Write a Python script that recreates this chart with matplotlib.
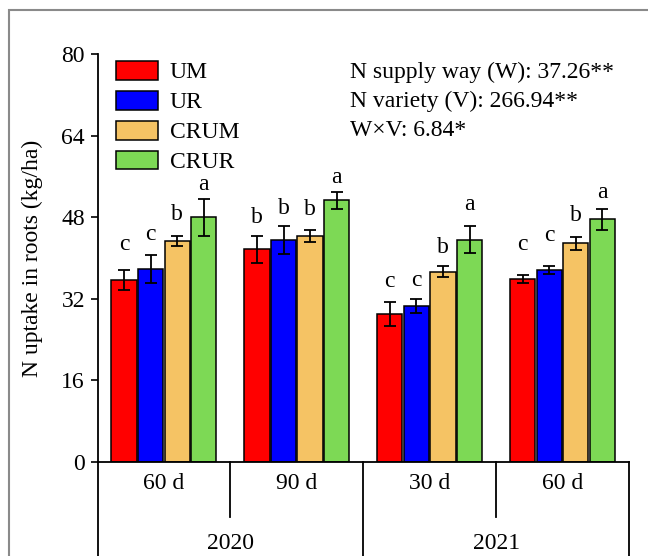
import numpy as np
import matplotlib
matplotlib.use('Agg')
import matplotlib.pyplot as plt
from matplotlib.patches import Rectangle

plt.rcParams['font.family'] = ['Liberation Serif', 'DejaVu Serif']
plt.rcParams['font.size'] = 17

# data
treatments = ['UM', 'UR', 'CRUM', 'CRUR']
colors = ['#FF0000', '#0000FF', '#F5C364', '#7DD955']
stages = ['60 d', '90 d', '30 d', '60 d']
years = ['2020', '2021']

means = {
    'UM':   [35.7, 41.7, 29.0, 35.8],
    'UR':   [37.8, 43.5, 30.6, 37.6],
    'CRUM': [43.3, 44.3, 37.3, 42.9],
    'CRUR': [48.0, 51.3, 43.6, 47.6],
}
errs = {
    'UM':   [2.0, 2.7, 2.3, 0.8],
    'UR':   [2.7, 2.8, 1.3, 0.8],
    'CRUM': [1.0, 1.2, 1.05, 1.3],
    'CRUR': [3.6, 1.7, 2.7, 2.1],
}
letters = {
    'UM':   ['c', 'b', 'c', 'c'],
    'UR':   ['c', 'b', 'c', 'c'],
    'CRUM': ['b', 'b', 'b', 'b'],
    'CRUR': ['a', 'a', 'a', 'a'],
}
letter_y = {
    'UM':   [42.6, 48.0, 35.4, 42.7],
    'UR':   [44.7, 49.8, 35.6, 44.4],
    'CRUM': [48.6, 49.6, 42.0, 48.3],
    'CRUR': [54.5, 55.7, 50.4, 52.8],
}
stats = ['N supply way (W): 37.26**', 'N variety (V): 266.94**', 'W\u00d7V: 6.84*']

fig = plt.figure(figsize=(6.48, 5.56), dpi=100)
ax = fig.add_axes([0.1505, 0.1691, 0.8202, 0.7338])

x = np.arange(len(stages))
width = 0.19
offsets = [-0.3, -0.1, 0.1, 0.3]

for i, t in enumerate(treatments):
    ax.bar(x + offsets[i], means[t], width, color=colors[i], edgecolor='black',
           linewidth=1.1, label=t, zorder=2)
    ax.errorbar(x + offsets[i], means[t], yerr=errs[t], fmt='none', ecolor='black',
                elinewidth=1.3, capsize=4, capthick=1.3, zorder=3)
    for j in range(len(stages)):
        ax.text(x[j] + offsets[i], letter_y[t][j], letters[t][j], ha='center',
                va='center', fontsize=17)

ax.set_xlim(-0.5, 3.5)
ax.set_ylim(0, 80)
ax.set_yticks([0, 16, 32, 48, 64, 80])
ax.set_xticks([])
ax.tick_params(axis='y', direction='out', length=5, width=1.2, pad=4, labelsize=17)
for s in ['top', 'right']:
    ax.spines[s].set_visible(False)
ax.spines['left'].set_linewidth(1.3)
ax.spines['bottom'].set_linewidth(1.3)

ax.set_ylabel('N uptake in roots (kg/ha)', fontsize=17)
ax.yaxis.set_label_coords(-0.1025, 0.5)

# category table below the axis
trans = ax.get_xaxis_transform()
for xv in [-0.5, 1.5, 3.5]:
    ax.plot([xv, xv], [0, -0.3], color='black', lw=1.3, transform=trans, clip_on=False)
for xv in [0.5, 2.5]:
    ax.plot([xv, xv], [0, -0.135], color='black', lw=1.3, transform=trans, clip_on=False)
for j, s in enumerate(stages):
    ax.text(x[j], -0.052, s, ha='center', va='center', transform=trans, fontsize=17)
for k, yr in enumerate(years):
    ax.text(0.5 + 2 * k, -0.2, yr, ha='center', va='center', transform=trans, fontsize=17)

leg = ax.legend(loc='upper left', bbox_to_anchor=(0.0126, 1.012), frameon=False,
                handlelength=1.78, handleheight=0.85, handletextpad=0.49,
                labelspacing=0.31, borderpad=0, fontsize=17)
for p in leg.get_patches():
    p.set_linewidth(1.1)

for k, s in enumerate(stats):
    ax.text(0.475, 0.956 - 0.0712 * k, s, transform=ax.transAxes, ha='left',
            va='center', fontsize=17)

# outer gray frame
fig.patches.append(Rectangle((9 / 648, -0.2), 1.2, 1 - 10 / 556 + 0.2, fill=False,
                             edgecolor='#8a8a8a', linewidth=1.5,
                             transform=fig.transFigure, figure=fig))

fig.savefig('out.png', dpi=100)
